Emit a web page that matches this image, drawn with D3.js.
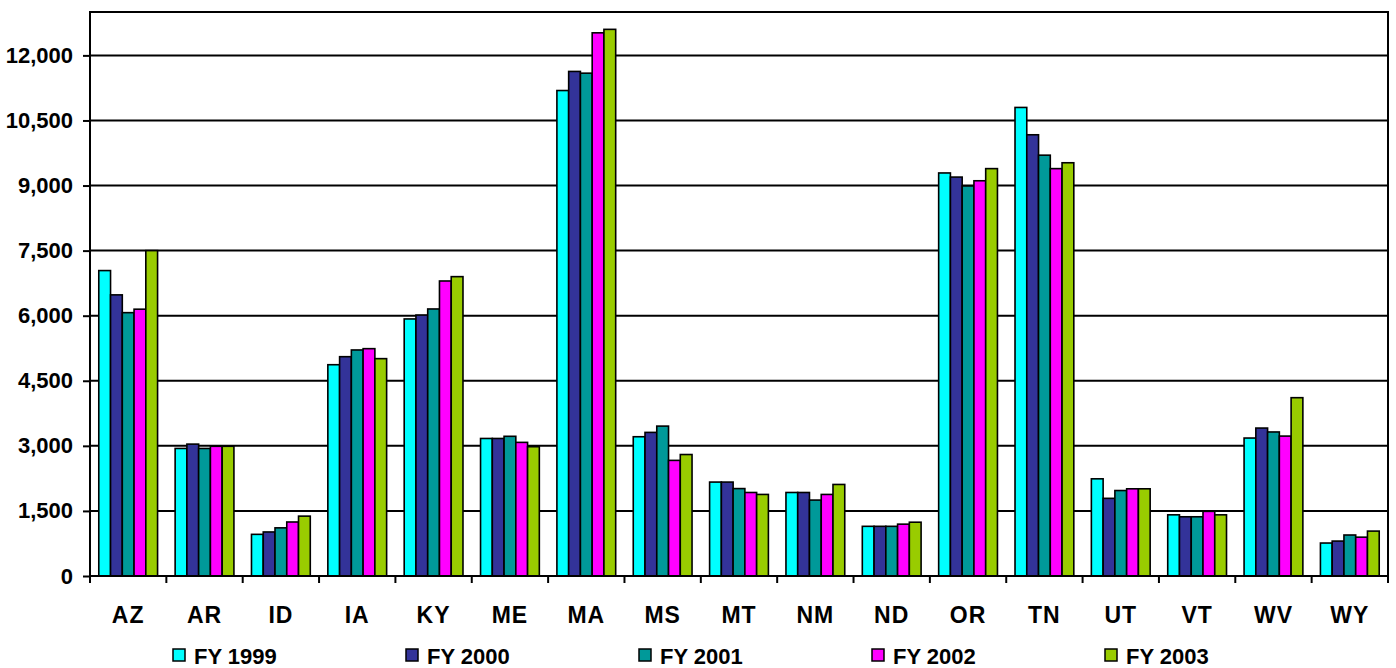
<!DOCTYPE html>
<html><head><meta charset="utf-8">
<script src="https://cdn.jsdelivr.net/npm/d3@7"></script>
<style>html,body{margin:0;padding:0;background:#fff;}svg{display:block;}</style>
</head><body>
<svg id="chart" width="1396" height="668"></svg>
<script>
const categories = ["AZ","AR","ID","IA","KY","ME","MA","MS","MT","NM","ND","OR","TN","UT","VT","WV","WY"];
const seriesNames = ["FY 1999","FY 2000","FY 2001","FY 2002","FY 2003"];
const fy1999 = [7040,2940,960,4870,5925,3170,11190,3210,2165,1925,1145,9290,10800,2240,1410,3180,760];
const fy2000 = [6480,3040,1015,5055,6015,3170,11630,3310,2165,1925,1145,9195,10170,1790,1365,3410,805];
const fy2001 = [6070,2940,1110,5210,6155,3220,11590,3455,2015,1750,1145,8990,9700,1970,1365,3320,945];
const fy2002 = [6150,2990,1245,5240,6800,3080,12520,2665,1925,1880,1195,9110,9390,2010,1490,3225,895];
const fy2003 = [7500,2990,1380,5010,6900,2980,12600,2800,1880,2110,1240,9390,9525,2010,1410,4110,1035];
const yTicks = [0,1500,3000,4500,6000,7500,9000,10500,12000];
const colors = ["#00FFFF","#333399","#009999","#FF00FF","#99CC00"];

const series = [fy1999,fy2000,fy2001,fy2002,fy2003];
const svg = d3.select("#chart");
const L = 90, R = 1388, T = 12, B = 576;
const font = "'Liberation Sans', Arial, sans-serif";

const y = d3.scaleLinear().domain([0,13000]).range([B,T]);
const x0 = d3.scaleBand().domain(categories).range([L,R]).padding(0);
const gp = 0.115;
const x1 = d3.scaleBand().domain(d3.range(5))
  .range([x0.bandwidth()*gp, x0.bandwidth()*(1-gp)]).padding(0);

// gridlines
svg.append("g").selectAll("line").data(yTicks.filter(d=>d>0)).join("line")
  .attr("x1",L).attr("x2",R).attr("y1",d=>y(d)).attr("y2",d=>y(d))
  .attr("stroke","#000").attr("stroke-width",2);

// bars
const g = svg.append("g");
categories.forEach((c,i)=>{
  series.forEach((s,j)=>{
    g.append("rect")
      .attr("x", x0(c)+x1(j))
      .attr("y", y(s[i]))
      .attr("width", x1.bandwidth())
      .attr("height", B - y(s[i]))
      .attr("fill", colors[j])
      .attr("stroke","#000").attr("stroke-width",1.6);
  });
});

// frame
svg.append("rect").attr("x",L).attr("y",T).attr("width",R-L).attr("height",B-T)
  .attr("fill","none").attr("stroke","#000").attr("stroke-width",2);

// y axis
const yAxis = d3.axisLeft(y).tickValues(yTicks).tickSize(7).tickPadding(10)
  .tickFormat(d3.format(","));
const ya = svg.append("g").attr("transform",`translate(${L},0)`).call(yAxis);
ya.select(".domain").remove();
ya.selectAll("line").attr("stroke","#000").attr("stroke-width",2);
ya.selectAll("text").attr("font-family",font).attr("font-weight","bold")
  .attr("font-size",22).attr("fill","#000");

// x axis ticks at category boundaries
const bounds = categories.map(c=>x0(c)).concat([R]);
svg.append("g").selectAll("line").data(bounds).join("line")
  .attr("x1",d=>d).attr("x2",d=>d).attr("y1",B).attr("y2",B+7)
  .attr("stroke","#000").attr("stroke-width",2);
svg.append("g").selectAll("text").data(categories).join("text")
  .attr("x",d=>x0(d)+x0.bandwidth()/2).attr("y",623)
  .attr("text-anchor","middle").attr("font-family",font).attr("font-weight","bold")
  .attr("font-size",23).attr("letter-spacing",1).attr("fill","#000").text(d=>d);

// legend
const lg = svg.append("g");
seriesNames.forEach((n,j)=>{
  const lx = 173 + j*233;
  lg.append("rect").attr("x",lx).attr("y",649).attr("width",12).attr("height",12)
    .attr("fill",colors[j]).attr("stroke","#000").attr("stroke-width",1.5);
  lg.append("text").attr("x",lx+21).attr("y",664).attr("font-family",font)
    .attr("font-weight","bold").attr("font-size",22).attr("fill","#000").text(n);
});
</script>
</body></html>
